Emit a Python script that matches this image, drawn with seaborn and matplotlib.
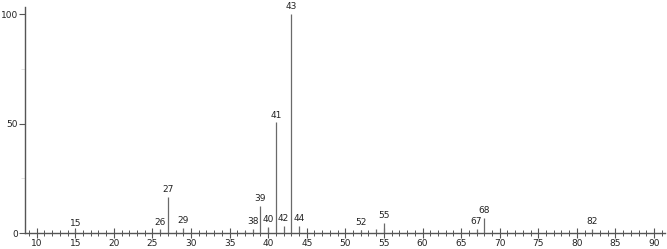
import matplotlib
matplotlib.use("Agg")
import matplotlib.pyplot as plt
import seaborn as sns
import pandas as pd
from matplotlib.ticker import MultipleLocator

mz = [15, 26, 27, 28, 29, 37, 38, 39, 40, 41, 42, 43, 44, 52, 54, 55, 67, 68, 82]
intensity = [1.3, 1.6, 16.5, 1.0, 2.4, 1.0, 2.0, 12.5, 2.9, 50.5, 3.4, 100.0, 3.2, 1.5, 1.8, 4.7, 2.0, 6.9, 1.8]
labeled = [15, 26, 27, 29, 38, 39, 40, 41, 42, 43, 44, 52, 55, 67, 68, 82]
x_major = [10, 15, 20, 25, 30, 35, 40, 45, 50, 55, 60, 65, 70, 75, 80, 85, 90]
y_major = [0, 50, 100]

df = pd.DataFrame({"mz": mz, "intensity": intensity})

sns.set_style("white")
plt.rcParams['font.family'] = ['DejaVu Sans']

fig = plt.figure(figsize=(6.67, 2.49), dpi=100)
ax = fig.add_axes([25/667, 1 - 233/249, (665 - 25)/667, (233 - 7)/249])

sns.barplot(data=df, x="mz", y="intensity", native_scale=True, width=1e-4,
            color="#6a6a6a", edgecolor="#6a6a6a", linewidth=0.9, saturation=1, ax=ax)

for m, v in zip(mz, intensity):
    if m in labeled:
        ax.text(m, v + 1.2, str(m), ha="center", va="bottom", fontsize=6.5, color="#222222")

ax.set_xlim(8.48, 91.43)
ax.set_ylim(0, 103.2)
ax.set_xticks(x_major)
ax.set_xticklabels([str(v) for v in x_major])
ax.xaxis.set_minor_locator(MultipleLocator(1))
ax.set_yticks(y_major)
ax.set_yticklabels([str(v) for v in y_major])
ax.yaxis.set_minor_locator(MultipleLocator(25))

for s in ["top", "right"]:
    ax.spines[s].set_visible(False)
for s in ["left", "bottom"]:
    ax.spines[s].set_color("#555555")
    ax.spines[s].set_linewidth(1.0)

ax.tick_params(which="both", bottom=True, left=True, top=False, right=False)
ax.tick_params(axis="x", which="major", direction="inout", length=7, width=0.8,
               color="#555555", labelsize=6.5, pad=1, labelcolor="#222222")
ax.tick_params(axis="x", which="minor", direction="inout", length=4, width=0.7, color="#555555")
ax.tick_params(axis="y", which="major", direction="out", length=4, width=0.8,
               color="#555555", labelsize=6.5, pad=1, labelcolor="#222222")
ax.tick_params(axis="y", which="minor", direction="out", length=3, width=0.6, color="#dddddd")
ax.set_xlabel("")
ax.set_ylabel("")

fig.savefig("out.png", dpi=100)
